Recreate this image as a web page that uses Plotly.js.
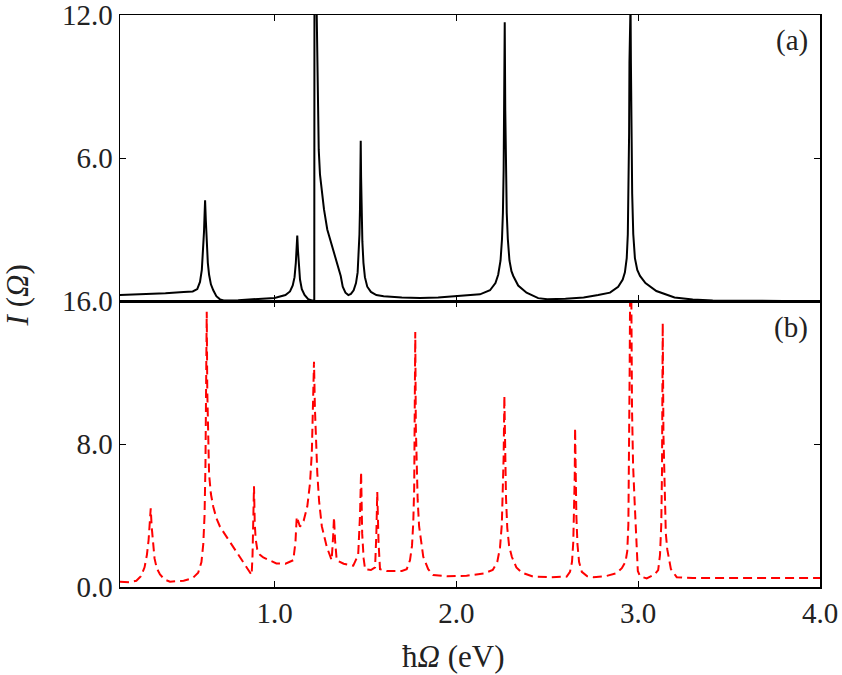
<!DOCTYPE html>
<html>
<head>
<meta charset="utf-8">
<script src="https://cdn.plot.ly/plotly-3.0.1.min.js"></script>
<style>html,body{margin:0;padding:0;background:#fff;}#chart{width:842px;height:675px;}</style>
</head>
<body>
<div id="chart"></div>
<script>
// Panel (a): photon energy (eV) and intensity
const energyA = [0.15,0.30,0.40,0.50,0.55,0.575,0.59,0.60,0.607,0.612,0.615,0.618,0.622,0.627,0.633,0.64,0.65,0.663,0.68,0.70,0.72,0.80,0.90,1.00,1.06,1.085,1.10,1.11,1.117,1.121,1.125,1.129,1.134,1.14,1.15,1.165,1.185,1.205,1.2185,1.2195,1.231,1.236,1.243,1.25,1.26,1.272,1.29,1.31,1.323,1.34,1.355,1.364,1.375,1.39,1.406,1.42,1.435,1.448,1.457,1.463,1.467,1.47,1.472,1.474,1.476,1.479,1.483,1.489,1.497,1.51,1.53,1.56,1.60,1.70,1.80,1.90,2.00,2.13,2.185,2.215,2.23,2.243,2.251,2.256,2.26,2.263,2.266,2.269,2.272,2.277,2.283,2.292,2.303,2.313,2.34,2.386,2.45,2.50,2.60,2.70,2.78,2.845,2.89,2.915,2.927,2.937,2.943,2.947,2.95,2.952,2.954,2.958,2.96,2.963,2.967,2.973,2.982,2.995,3.01,3.04,3.10,3.20,3.30,3.41,3.60,3.80,4.00];
const intensityA = [0.25,0.28,0.33,0.38,0.40,0.5,0.8,1.3,2.0,2.9,3.6,4.23,3.4,2.4,1.6,1.1,0.7,0.45,0.2,0.07,0.02,0.03,0.08,0.13,0.25,0.4,0.65,1.0,1.6,2.2,2.75,2.1,1.4,0.9,0.5,0.25,0.08,0.02,0.02,12.5,12.5,9.5,6.35,5.3,4.5,3.84,3.0,2.45,2.16,1.7,1.3,1.05,0.6,0.35,0.25,0.3,0.45,0.75,1.2,1.9,2.8,3.9,5.2,6.72,5.2,3.7,2.5,1.6,1.0,0.6,0.38,0.25,0.2,0.15,0.13,0.15,0.2,0.28,0.45,0.75,1.1,1.7,2.6,3.7,5.5,8,11.7,8,5.5,3.7,2.6,1.7,1.25,1.05,0.65,0.35,0.12,0.07,0.09,0.15,0.25,0.35,0.6,0.9,1.2,1.8,2.8,4.5,7,10,12.5,12.5,10,7,4.5,2.8,1.8,1.3,1.05,0.75,0.42,0.15,0.06,0.02,0.0,0.0,0.0];

// Panel (b)
const energyB = [0.15,0.20,0.24,0.265,0.285,0.298,0.307,0.314,0.319,0.324,0.331,0.34,0.352,0.37,0.395,0.425,0.50,0.55,0.58,0.598,0.608,0.615,0.62,0.624,0.627,0.630,0.634,0.64,0.65,0.663,0.68,0.70,0.74,0.773,0.81,0.847,0.874,0.879,0.883,0.887,0.891,0.896,0.905,0.92,0.938,1.01,1.06,1.103,1.115,1.122,1.14,1.16,1.18,1.195,1.205,1.211,1.217,1.222,1.228,1.235,1.245,1.26,1.287,1.314,1.322,1.327,1.333,1.342,1.38,1.433,1.46,1.47,1.476,1.482,1.49,1.498,1.53,1.553,1.56,1.565,1.572,1.58,1.617,1.70,1.727,1.745,1.756,1.763,1.768,1.771,1.774,1.777,1.781,1.787,1.795,1.805,1.818,1.845,1.873,1.95,2.056,2.15,2.20,2.225,2.24,2.25,2.256,2.26,2.264,2.268,2.273,2.28,2.29,2.305,2.33,2.36,2.423,2.52,2.607,2.625,2.636,2.643,2.648,2.651,2.653,2.656,2.66,2.666,2.675,2.69,2.72,2.753,2.82,2.88,2.91,2.93,2.94,2.946,2.95,2.953,2.956,2.962,2.966,2.972,2.98,2.99,2.998,3.01,3.047,3.09,3.11,3.12,3.127,3.131,3.135,3.139,3.145,3.152,3.16,3.166,3.18,3.212,3.30,3.60,3.80,4.00];
const intensityB = [0.3,0.27,0.35,0.6,1.1,1.8,2.6,3.5,4.4,3.4,2.4,1.6,1.05,0.7,0.42,0.3,0.35,0.5,0.8,1.4,2.4,4,6.8,10.5,15.4,11,8.2,6.3,5.2,4.49,3.85,3.37,2.75,2.25,1.7,1.13,0.67,1.8,3.5,5.64,3.6,2.7,2.1,1.8,1.65,1.32,1.3,1.5,2.5,3.93,3.37,3.7,4.5,5.8,7.5,9.5,12.6,10,8,6.4,4.8,3.4,2.25,1.5,2.8,3.89,2.6,1.5,1.3,1.19,1.8,4,6.44,3.0,1.6,0.99,0.95,1.1,3,5.32,2.5,1.0,0.89,0.9,1.0,1.5,2.3,3.6,5.5,8.5,14.26,9,6.5,4.9,3.4,2.5,1.69,1.0,0.67,0.6,0.63,0.75,0.95,1.4,2.2,3.5,5.2,7.3,10.7,7.3,5.0,3.3,2.3,1.69,1.1,0.8,0.58,0.55,0.58,0.85,1.4,2.5,4.2,6.2,8.9,6.2,4.0,2.4,1.4,0.85,0.6,0.55,0.6,0.77,1.05,1.4,2.0,3.5,7,12,17,17,10,6.8,4.86,2.5,0.9,0.6,0.48,0.7,0.95,1.8,3.5,6.5,14.77,8.5,5,3.0,2.1,1.7,1.0,0.55,0.5,0.5,0.5,0.5];

const xTickVals = [1.0, 2.0, 3.0, 4.0];
const xTickText = ['1.0', '2.0', '3.0', '4.0'];
const yTopTickVals = [0, 6, 12];
const yTopTickText = ['', '6.0', '12.0'];
const yBotTickVals = [0, 8, 16];
const yBotTickText = ['0.0', '8.0', '16.0'];

const FONT = 'Liberation Serif';

const traces = [
  {x: energyA, y: intensityA, xaxis: 'x2', yaxis: 'y', type: 'scatter', mode: 'lines',
   line: {color: '#000000', width: 2}, name: '(a)', hoverinfo: 'x+y'},
  {x: energyB, y: intensityB, xaxis: 'x', yaxis: 'y2', type: 'scatter', mode: 'lines',
   line: {color: '#ff0000', width: 2, dash: '9px,5px'}, name: '(b)', hoverinfo: 'x+y'}
];

const axCommon = {showline: true, linecolor: '#000', linewidth: 1.5, mirror: 'allticks',
  ticks: 'inside', ticklen: 6, tickcolor: '#000', tickwidth: 1, showgrid: false, zeroline: false,
  ticklabeloverflow: 'allow',
  tickfont: {family: FONT, size: 29, color: '#222'}};

const layout = {
  width: 842, height: 675,
  margin: {l: 120, r: 22, t: 15, b: 88},
  paper_bgcolor: '#fff', plot_bgcolor: '#fff',
  showlegend: false,
  font: {family: FONT, color: '#222'},
  xaxis: Object.assign({}, axCommon, {domain: [0, 1], anchor: 'y2', range: [0.15, 4.0],
    tickvals: xTickVals, ticktext: xTickText}),
  xaxis2: Object.assign({}, axCommon, {domain: [0, 1], anchor: 'y', range: [0.15, 4.0],
    tickvals: xTickVals, ticktext: xTickText, showticklabels: false, matches: 'x'}),
  yaxis: Object.assign({}, axCommon, {domain: [0.5, 1], anchor: 'x2', range: [0, 12.0001],
    tickvals: yTopTickVals, ticktext: yTopTickText}),
  yaxis2: Object.assign({}, axCommon, {domain: [0, 0.5], anchor: 'x', range: [0, 16],
    tickvals: yBotTickVals, ticktext: yBotTickText}),
  annotations: [
    {text: '(a)', xref: 'paper', yref: 'paper', x: 0.985, y: 0.956, xanchor: 'right', yanchor: 'middle',
     showarrow: false, font: {family: FONT, size: 29, color: '#222'}},
    {text: '(b)', xref: 'paper', yref: 'paper', x: 0.985, y: 0.453, xanchor: 'right', yanchor: 'middle',
     showarrow: false, font: {family: FONT, size: 29, color: '#222'}},
    {text: 'ħ<i>Ω</i> (eV)', xref: 'paper', yref: 'paper', x: 0.476, y: -0.122, xanchor: 'center', yanchor: 'middle',
     showarrow: false, font: {family: FONT, size: 31, color: '#222'}},
    {text: '<i>I</i> (<i>Ω</i>)', xref: 'paper', yref: 'paper', x: -0.147, y: 0.51, xanchor: 'center', yanchor: 'middle',
     textangle: -90, showarrow: false, font: {family: FONT, size: 31, color: '#222'}}
  ]
};

Plotly.newPlot('chart', traces, layout, {displayModeBar: false, staticPlot: true});
</script>
</body>
</html>
